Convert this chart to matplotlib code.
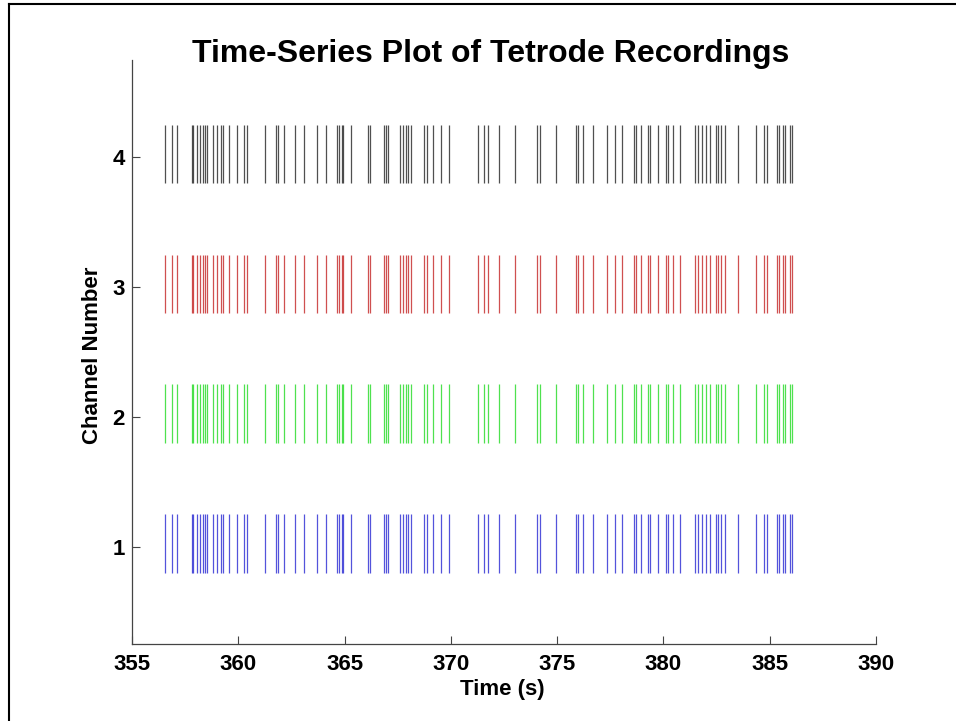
import matplotlib
matplotlib.use("Agg")
import matplotlib.pyplot as plt
from matplotlib.lines import Line2D

# Spike times (s), shared by all four tetrode channels
spike_times = [
    356.55, 356.87, 357.10, 357.81, 357.88, 358.04, 358.20, 358.33, 358.43,
    358.51, 358.82, 358.98, 359.17, 359.27, 359.58, 359.93, 360.27, 360.40,
    361.26, 361.77, 361.85, 362.15, 362.67, 363.09, 363.70, 364.13, 364.63,
    364.74, 364.87, 364.94, 365.29, 366.12, 366.20, 366.86, 366.95, 367.06,
    367.61, 367.73, 367.88, 368.00, 368.11, 368.74, 368.86, 369.17, 369.52,
    369.93, 371.29, 371.56, 371.76, 372.28, 373.02, 374.04, 374.19, 374.95,
    375.89, 376.00, 376.23, 376.67, 377.33, 377.72, 378.04, 378.60, 378.72,
    378.93, 379.29, 379.37, 379.76, 380.12, 380.23, 380.46, 380.78, 381.49,
    381.64, 381.80, 382.00, 382.19, 382.47, 382.58, 382.69, 382.90, 383.52,
    384.36, 384.73, 384.89, 385.33, 385.45, 385.61, 385.72, 385.96, 386.04,
]
channels = [1, 2, 3, 4]
channel_colors = ["#1a1ad0", "#14d814", "#c01515", "#151515"]
x_ticks = [355, 360, 365, 370, 375, 380, 385, 390]
y_ticks = [1, 2, 3, 4]

W, H = 956, 721
fig = plt.figure(figsize=(W / 100, H / 100), dpi=100)
fig.patch.set_facecolor("white")

# Slide frame (left and top edges)
fig.add_artist(Line2D([9 / W, 9 / W], [0, 1 - 4 / H], color="black", lw=1.5,
                      transform=fig.transFigure))
fig.add_artist(Line2D([9 / W, 1], [1 - 4 / H, 1 - 4 / H], color="black", lw=1.5,
                      transform=fig.transFigure))

left, right = 132 / W, 876 / W
bottom, top = 1 - 644 / H, 1 - 60 / H
ax = fig.add_axes([left, bottom, right - left, top - bottom])

for ch, col in zip(channels, channel_colors):
    ax.vlines(spike_times, ch - 0.2, ch + 0.25, colors=col, linewidth=0.9,
              alpha=0.75)

ax.set_xlim(355, 390)
ax.set_ylim(0.25, 4.75)
ax.set_xticks(x_ticks)
ax.set_yticks(y_ticks)

font = ["Liberation Sans", "DejaVu Sans"]
ax.set_xticklabels([str(t) for t in x_ticks], fontsize=16, fontweight="bold",
                   family=font)
ax.set_yticklabels([str(t) for t in y_ticks], fontsize=16, fontweight="bold",
                   family=font)
ax.tick_params(direction="in", length=6, width=0.8, color="#444444")
ax.tick_params(axis="x", pad=7)
ax.tick_params(axis="y", pad=5)

for side in ("top", "right"):
    ax.spines[side].set_visible(False)
for side in ("left", "bottom"):
    ax.spines[side].set_color("#444444")
    ax.spines[side].set_linewidth(0.9)

fig.text(491 / W, 1 - 54 / H, "Time-Series Plot of Tetrode Recordings",
         ha="center", va="center", fontsize=23, fontweight="bold", family=font)
fig.text(502 / W, 1 - 690 / H, "Time (s)", ha="center", va="center",
         fontsize=16, fontweight="bold", family=font)
fig.text(93 / W, 1 - 355 / H, "Channel Number", ha="center", va="center",
         rotation=90, fontsize=16, fontweight="bold", family=font)

fig.savefig("out.png", dpi=100, facecolor="white")
